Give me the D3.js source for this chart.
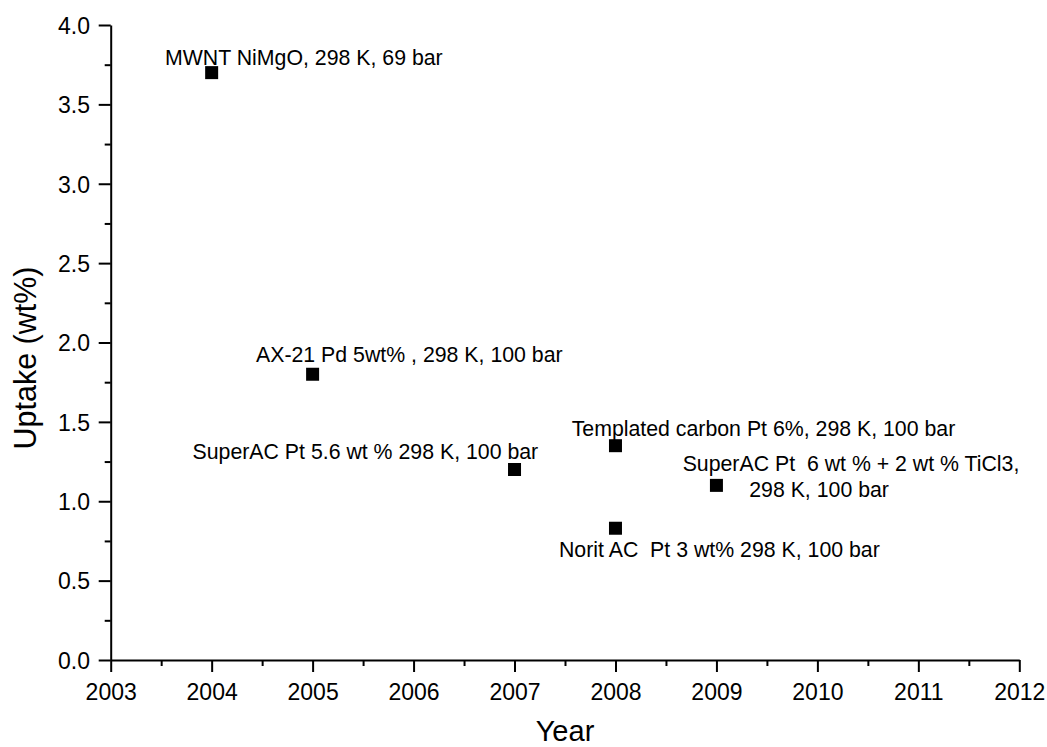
<!DOCTYPE html>
<html>
<head>
<meta charset="utf-8">
<script src="https://cdn.jsdelivr.net/npm/d3@7"></script>
<style>
  body { margin: 0; background: #fff; }
  svg { display: block; font-family: "Liberation Sans", Arial, Helvetica, sans-serif; }
  .axis path, .axis line { stroke: #000; stroke-width: 2; }
  .axis text { font-size: 23px; fill: #000; font-family: "Liberation Sans", Arial, sans-serif; }
  .note { font-size: 21.3px; fill: #000; white-space: pre; }
</style>
</head>
<body>
<div id="chart"></div>
<script>
// Data
var years = [2004, 2005, 2007, 2008, 2008, 2009];
var uptake = [3.7, 1.8, 1.2, 1.35, 0.83, 1.1];
var notes = [
  ["MWNT NiMgO, 298 K, 69 bar"],
  ["AX-21 Pd 5wt% , 298 K, 100 bar"],
  ["SuperAC Pt 5.6 wt % 298 K, 100 bar"],
  ["Templated carbon Pt 6%, 298 K, 100 bar"],
  ["Norit AC  Pt 3 wt% 298 K, 100 bar"],
  ["SuperAC Pt  6 wt % + 2 wt % TiCl3,", "298 K, 100 bar"]
];
var xTicks = [2003, 2004, 2005, 2006, 2007, 2008, 2009, 2010, 2011, 2012];
var yTicks = [0, 0.5, 1, 1.5, 2, 2.5, 3, 3.5, 4];

// Label placement (pixel offsets from the marker, one entry per line)
var noteOffsets = [
  [[-46.7, -7.6]],
  [[-56.6, -12]],
  [[-322, -10.2]],
  [[-43.8, -9.7]],
  [[-56.5, 29.1]],
  [[-33.8, -14.7], [32.8, 11.9]]
];

var width = 1047;
var height = 747;
var plot = { left: 110.7, right: 1019.3, top: 25, bottom: 660 };

var svg = d3.select('#chart')
  .append('svg')
  .attr('width', width)
  .attr('height', height);

var x_scale = d3.scaleLinear()
  .domain([2003, 2012])
  .range([plot.left, plot.right]);

var y_scale = d3.scaleLinear()
  .domain([0, 4])
  .range([plot.bottom, plot.top]);

// minor ticks
var xMinor = d3.range(2003.5, 2012, 1);
var yMinor = d3.range(0.25, 4, 0.5);

svg.append('g')
  .attr('class', 'axis')
  .attr('transform', 'translate(0,' + plot.bottom + ')')
  .call(d3.axisBottom(x_scale).tickValues(xMinor).tickSize(6).tickFormat(''))
  .select('.domain').remove();

svg.append('g')
  .attr('class', 'axis')
  .attr('transform', 'translate(' + plot.left + ',0)')
  .call(d3.axisLeft(y_scale).tickValues(yMinor).tickSize(6).tickFormat(''))
  .select('.domain').remove();

// x axis
var xg = svg.append('g')
  .attr('class', 'axis')
  .attr('transform', 'translate(0,' + plot.bottom + ')')
  .call(d3.axisBottom(x_scale).tickValues(xTicks).tickSize(12).tickSizeOuter(0).tickFormat(d3.format('d')));
xg.selectAll('.tick text').attr('y', 39.5).attr('dy', 0);

// y axis
var yg = svg.append('g')
  .attr('class', 'axis')
  .attr('transform', 'translate(' + plot.left + ',0)')
  .call(d3.axisLeft(y_scale).tickValues(yTicks).tickSize(12).tickSizeOuter(0).tickFormat(d3.format('.1f')));
yg.selectAll('.tick text').attr('x', -20.7).attr('dy', '0.36em');

// axis titles
svg.append('text')
  .attr('x', 565)
  .attr('y', 741)
  .style('text-anchor', 'middle')
  .style('font-size', '29px')
  .text('Year');

svg.append('text')
  .attr('transform', 'translate(36,358) rotate(-90)')
  .style('text-anchor', 'middle')
  .style('font-size', '30.5px')
  .text('Uptake (wt%)');

// markers
var size = 13;
svg.selectAll('rect.pt')
  .data(years)
  .enter()
  .append('rect')
  .attr('class', 'pt')
  .attr('x', function(d) { return x_scale(d) - size / 2; })
  .attr('y', function(d, i) { return y_scale(uptake[i]) - size / 2; })
  .attr('width', size)
  .attr('height', size)
  .attr('fill', '#000');

// annotations
notes.forEach(function(lines, i) {
  lines.forEach(function(line, j) {
    svg.append('text')
      .attr('class', 'note')
      .attr('xml:space', 'preserve')
      .attr('x', x_scale(years[i]) + noteOffsets[i][j][0])
      .attr('y', y_scale(uptake[i]) + noteOffsets[i][j][1])
      .text(line);
  });
});
</script>
</body>
</html>
